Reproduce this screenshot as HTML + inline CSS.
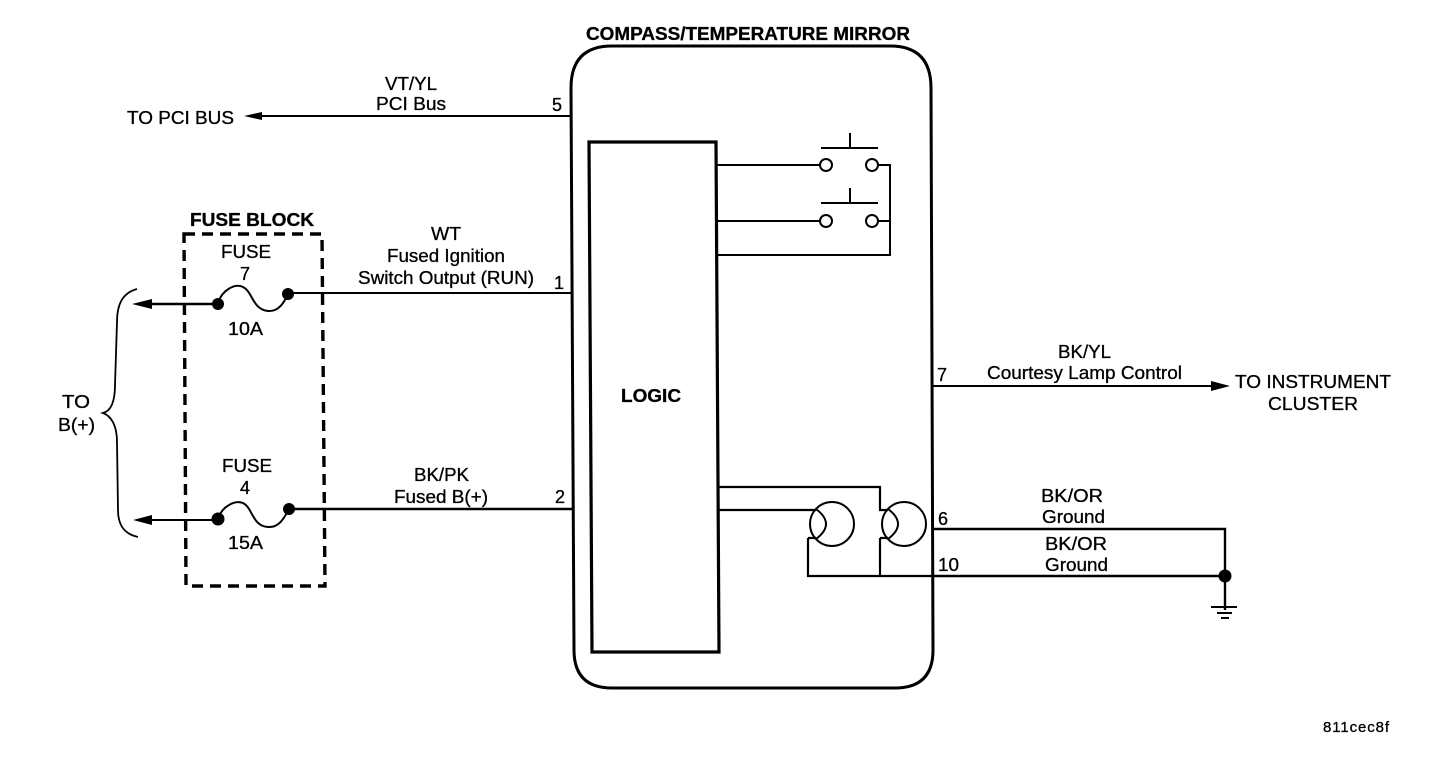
<!DOCTYPE html>
<html>
<head>
<meta charset="utf-8">
<style>
html,body{margin:0;padding:0;background:#fff;width:1440px;height:774px;overflow:hidden}
svg{display:block}
text{font-family:"Liberation Sans",sans-serif;font-size:18px;fill:#000;text-anchor:start;stroke:#000;stroke-width:.3px}
.b{font-weight:bold;font-size:18px}
</style>
</head>
<body>
<svg width="1440" height="774" viewBox="0 0 1440 774" xmlns="http://www.w3.org/2000/svg">
<g fill="none" stroke="#000" stroke-width="2">
<!-- main body -->
<path stroke-width="3" d="M612 46H890Q931 46 931 88L933 650Q933 688 895 688H612Q574 688 574 650L571 88Q571 46 612 46Z"/>
<!-- logic -->
<path stroke-width="3.2" d="M589 142H716L719 652H592Z"/>
<!-- switches -->
<path d="M717 165H820M717 221H820M717 255H890V165H878M878 221H890"/>
<circle cx="826" cy="165" r="6"/><circle cx="872" cy="165" r="6"/>
<circle cx="826" cy="221" r="6"/><circle cx="872" cy="221" r="6"/>
<path d="M821 148H878M850 148V133M821 203H878M850 203V188"/>
<!-- lamps -->
<path stroke-width="2.2" d="M718 487H880V510H888M880 538V576M719 510H816M808 538V576H933M808 538H816M880 538H888"/>
<circle cx="832" cy="524" r="22"/><circle cx="904" cy="524" r="22"/>
<path d="M816 509Q836 524 816 539M888 509Q908 524 888 539"/>
<!-- wires -->
<path d="M250 116H571M288 293H571M933 386H1215"/>
<path stroke-width="2.4" d="M288 509H573M933 529H1225V576M933 576H1225M1225 576V610"/>
<path stroke-width="2.4" d="M148 304H218"/>
<path d="M148 520H218"/>
<path d="M1211 607H1237M1217 613H1232M1221 618H1229" stroke-width="2"/>
<!-- fuses -->
<path d="M218 303C222 290 235 283 243 287C253 292 252 309 268 311C280 312 285 300 288 294"/>
<path d="M218 519C222 506 235 500 243 503C253 508 252 526 268 527C280 528 285 516 289 509"/>
<!-- dashed fuse block -->
<path stroke-width="3.4" stroke-dasharray="11 7" d="M184 234H322L325 586H186Z"/>
<!-- brace -->
<path stroke-width="1.8" d="M137 289C122 293 117 305 117 322L115 385C115 402 111 411 103 413C111 416 117 425 117 442L118 510C118 525 124 534 138 537"/>
</g>
<g fill="#000" stroke="none">
<circle cx="218" cy="304" r="6"/><circle cx="288" cy="294" r="6"/>
<circle cx="218" cy="519" r="6.5"/><circle cx="289" cy="509" r="6"/>
<circle cx="1225" cy="576" r="6.5"/>
<path d="M244 116L262 112V120Z"/>
<path d="M132 304L152 299V309Z"/>
<path d="M133 520L152 515V525Z"/>
<path d="M1230 386L1211 381V391Z"/>
</g>
<text class="b" x="586" y="40" textLength="324" lengthAdjust="spacingAndGlyphs">COMPASS/TEMPERATURE MIRROR</text>
<text x="385" y="90" textLength="52" lengthAdjust="spacingAndGlyphs">VT/YL</text>
<text x="376" y="110" textLength="70" lengthAdjust="spacingAndGlyphs">PCI Bus</text>
<text x="127" y="124" textLength="107" lengthAdjust="spacingAndGlyphs">TO PCI BUS</text>
<text x="552" y="111">5</text>
<text class="b" x="190" y="226" textLength="124" lengthAdjust="spacingAndGlyphs">FUSE BLOCK</text>
<text x="221" y="258" textLength="50" lengthAdjust="spacingAndGlyphs">FUSE</text>
<text x="240" y="280">7</text>
<text x="228" y="335" textLength="35" lengthAdjust="spacingAndGlyphs">10A</text>
<text x="222" y="472" textLength="50" lengthAdjust="spacingAndGlyphs">FUSE</text>
<text x="240" y="494">4</text>
<text x="228" y="549" textLength="35" lengthAdjust="spacingAndGlyphs">15A</text>
<text x="431" y="240" textLength="30" lengthAdjust="spacingAndGlyphs">WT</text>
<text x="387" y="262" textLength="118" lengthAdjust="spacingAndGlyphs">Fused Ignition</text>
<text x="358" y="284" textLength="176" lengthAdjust="spacingAndGlyphs">Switch Output (RUN)</text>
<text x="554" y="289">1</text>
<text x="414" y="481" textLength="55" lengthAdjust="spacingAndGlyphs">BK/PK</text>
<text x="394" y="503" textLength="94" lengthAdjust="spacingAndGlyphs">Fused B(+)</text>
<text x="555" y="503">2</text>
<text x="62" y="408" textLength="28" lengthAdjust="spacingAndGlyphs">TO</text>
<text x="58" y="431" textLength="37" lengthAdjust="spacingAndGlyphs">B(+)</text>
<text class="b" x="621" y="402" textLength="60" lengthAdjust="spacingAndGlyphs">LOGIC</text>
<text x="937" y="381">7</text>
<text x="1058" y="358" textLength="53" lengthAdjust="spacingAndGlyphs">BK/YL</text>
<text x="987" y="379" textLength="195" lengthAdjust="spacingAndGlyphs">Courtesy Lamp Control</text>
<text x="1235" y="388" textLength="156" lengthAdjust="spacingAndGlyphs">TO INSTRUMENT</text>
<text x="1268" y="410" textLength="90" lengthAdjust="spacingAndGlyphs">CLUSTER</text>
<text x="938" y="525">6</text>
<text x="938" y="571" textLength="21" lengthAdjust="spacingAndGlyphs">10</text>
<text x="1041" y="502" textLength="62" lengthAdjust="spacingAndGlyphs">BK/OR</text>
<text x="1042" y="523" textLength="63" lengthAdjust="spacingAndGlyphs">Ground</text>
<text x="1045" y="550" textLength="62" lengthAdjust="spacingAndGlyphs">BK/OR</text>
<text x="1045" y="571" textLength="63" lengthAdjust="spacingAndGlyphs">Ground</text>
<text x="1323" y="732" textLength="66" lengthAdjust="spacing" style="font-size:15px">811cec8f</text>
</svg>
</body>
</html>
